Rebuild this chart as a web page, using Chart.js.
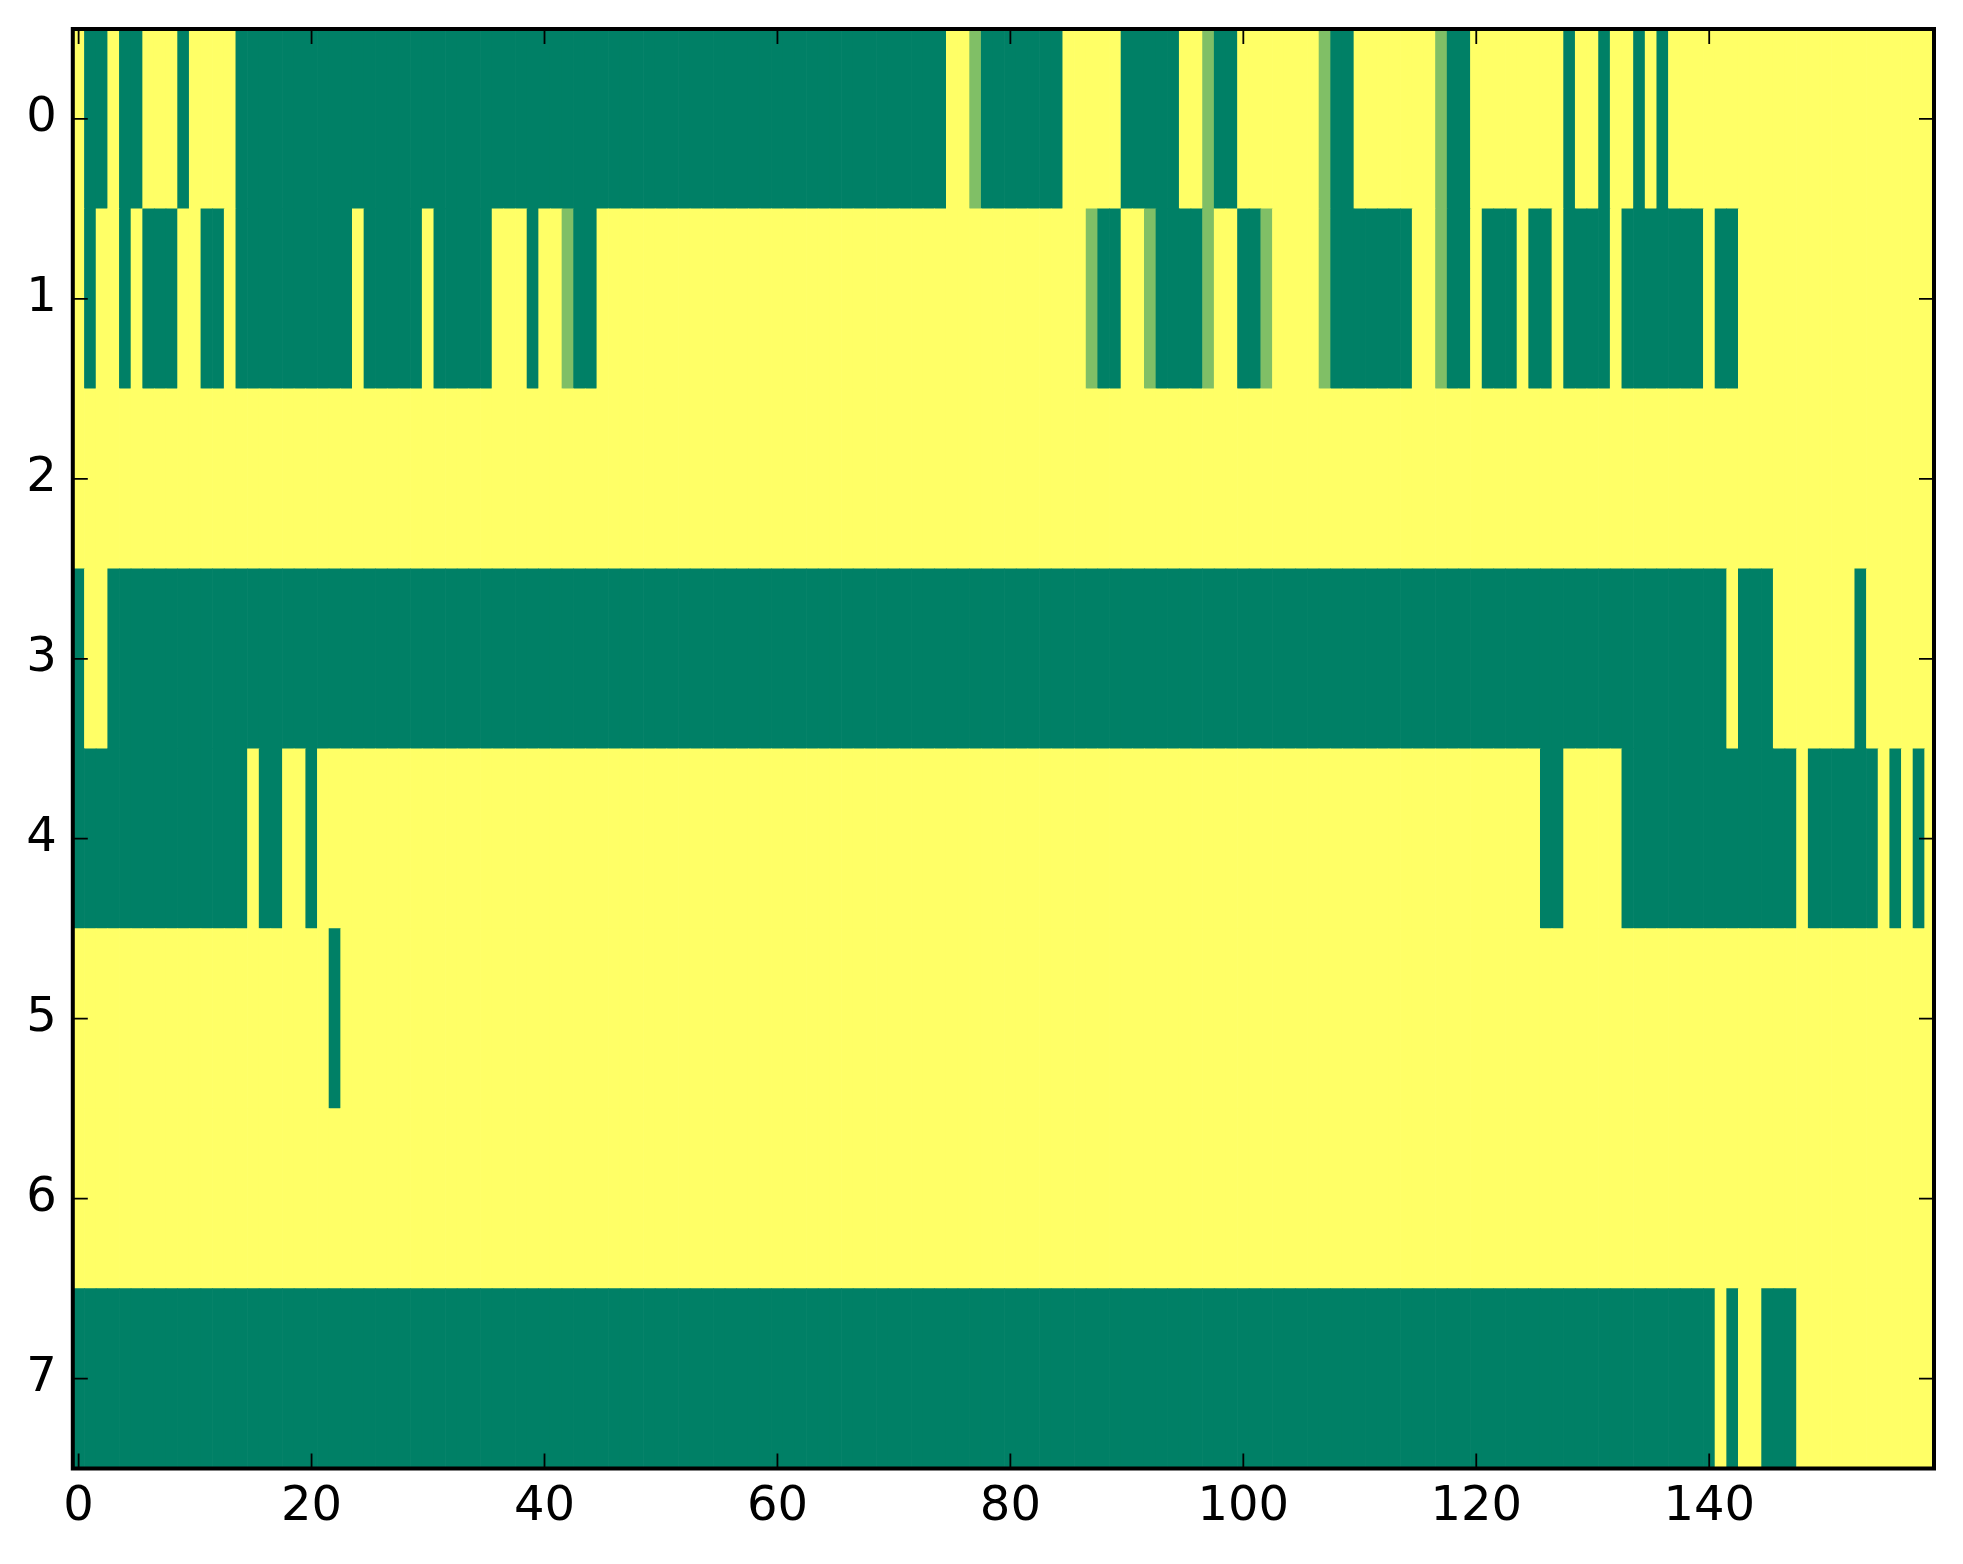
<!DOCTYPE html>
<html>
<head>
<meta charset="utf-8">
<script src="https://cdn.jsdelivr.net/npm/chart.js@4.4.1/dist/chart.umd.min.js"></script>
<style>
  html, body { margin: 0; padding: 0; background: #ffffff; }
  #wrap { width: 1963px; height: 1564px; position: relative; }
</style>
</head>
<body>
<div id="wrap"><canvas id="c"></canvas></div>
<script>
// ---- data: one array per image row, one value per column (0 = low, 1 = high) ----
const xTickValues = [0, 20, 40, 60, 80, 100, 120, 140];
const yTickValues = [0, 1, 2, 3, 4, 5, 6, 7];

const row0 = [
  1,0,0,1,0,0,1,1,1,0,  1,1,1,1,0,0,0,0,0,0,
  0,0,0,0,0,0,0,0,0,0,  0,0,0,0,0,0,0,0,0,0,
  0,0,0,0,0,0,0,0,0,0,  0,0,0,0,0,0,0,0,0,0,
  0,0,0,0,0,0,0,0,0,0,  0,0,0,0,0,1,1,0.5,0,0,
  0,0,0,0,0,1,1,1,1,1,  0,0,0,0,0,1,1,0.5,0,0,
  1,1,1,1,1,1,1,0.5,0,0,  1,1,1,1,1,1,1,0.5,0,0,
  1,1,1,1,1,1,1,1,0,1,  1,0,1,1,0,1,0,1,1,1,
  1,1,1,1,1,1,1,1,1,1,  1,1,1,1,1,1,1,1,1,1
];
const row1 = [
  1,0,1,1,0,1,0,0,0,1,  1,0,0,1,0,0,0,0,0,0,
  0,0,0,0,1,0,0,0,0,0,  1,0,0,0,0,0,1,1,1,0,
  1,1,0.5,0,0,1,1,1,1,1,  1,1,1,1,1,1,1,1,1,1,
  1,1,1,1,1,1,1,1,1,1,  1,1,1,1,1,1,1,1,1,1,
  1,1,1,1,1,1,1,0.5,0,0,  1,1,0.5,0,0,0,0,0.5,1,1,
  0,0,0.5,1,1,1,1,0.5,0,0,  0,0,0,0,0,1,1,0.5,0,0,
  1,0,0,0,1,0,0,1,0,0,  0,0,1,0,0,0,0,0,0,0,
  1,0,0,1,1,1,1,1,1,1,  1,1,1,1,1,1,1,1,1,1
];
const row2 = [
  1,1,1,1,1,1,1,1,1,1,  1,1,1,1,1,1,1,1,1,1,
  1,1,1,1,1,1,1,1,1,1,  1,1,1,1,1,1,1,1,1,1,
  1,1,1,1,1,1,1,1,1,1,  1,1,1,1,1,1,1,1,1,1,
  1,1,1,1,1,1,1,1,1,1,  1,1,1,1,1,1,1,1,1,1,
  1,1,1,1,1,1,1,1,1,1,  1,1,1,1,1,1,1,1,1,1,
  1,1,1,1,1,1,1,1,1,1,  1,1,1,1,1,1,1,1,1,1,
  1,1,1,1,1,1,1,1,1,1,  1,1,1,1,1,1,1,1,1,1,
  1,1,1,1,1,1,1,1,1,1,  1,1,1,1,1,1,1,1,1,1
];
const row3 = [
  0,1,1,0,0,0,0,0,0,0,  0,0,0,0,0,0,0,0,0,0,
  0,0,0,0,0,0,0,0,0,0,  0,0,0,0,0,0,0,0,0,0,
  0,0,0,0,0,0,0,0,0,0,  0,0,0,0,0,0,0,0,0,0,
  0,0,0,0,0,0,0,0,0,0,  0,0,0,0,0,0,0,0,0,0,
  0,0,0,0,0,0,0,0,0,0,  0,0,0,0,0,0,0,0,0,0,
  0,0,0,0,0,0,0,0,0,0,  0,0,0,0,0,0,0,0,0,0,
  0,0,0,0,0,0,0,0,0,0,  0,0,0,0,0,0,0,0,0,0,
  0,0,1,0,0,0,1,1,1,1,  1,1,1,0,1,1,1,1,1,1
];
const row4 = [
  0,0,0,0,0,0,0,0,0,0,  0,0,0,0,0,1,0,0,1,1,
  0,1,1,1,1,1,1,1,1,1,  1,1,1,1,1,1,1,1,1,1,
  1,1,1,1,1,1,1,1,1,1,  1,1,1,1,1,1,1,1,1,1,
  1,1,1,1,1,1,1,1,1,1,  1,1,1,1,1,1,1,1,1,1,
  1,1,1,1,1,1,1,1,1,1,  1,1,1,1,1,1,1,1,1,1,
  1,1,1,1,1,1,1,1,1,1,  1,1,1,1,1,1,1,1,1,1,
  1,1,1,1,1,1,0,0,1,1,  1,1,1,0,0,0,0,0,0,0,
  0,0,0,0,0,0,0,0,1,0,  0,0,0,0,0,1,0,1,0,1
];
const row5 = [
  1,1,1,1,1,1,1,1,1,1,  1,1,1,1,1,1,1,1,1,1,
  1,1,0,1,1,1,1,1,1,1,  1,1,1,1,1,1,1,1,1,1,
  1,1,1,1,1,1,1,1,1,1,  1,1,1,1,1,1,1,1,1,1,
  1,1,1,1,1,1,1,1,1,1,  1,1,1,1,1,1,1,1,1,1,
  1,1,1,1,1,1,1,1,1,1,  1,1,1,1,1,1,1,1,1,1,
  1,1,1,1,1,1,1,1,1,1,  1,1,1,1,1,1,1,1,1,1,
  1,1,1,1,1,1,1,1,1,1,  1,1,1,1,1,1,1,1,1,1,
  1,1,1,1,1,1,1,1,1,1,  1,1,1,1,1,1,1,1,1,1
];
const row6 = [
  1,1,1,1,1,1,1,1,1,1,  1,1,1,1,1,1,1,1,1,1,
  1,1,1,1,1,1,1,1,1,1,  1,1,1,1,1,1,1,1,1,1,
  1,1,1,1,1,1,1,1,1,1,  1,1,1,1,1,1,1,1,1,1,
  1,1,1,1,1,1,1,1,1,1,  1,1,1,1,1,1,1,1,1,1,
  1,1,1,1,1,1,1,1,1,1,  1,1,1,1,1,1,1,1,1,1,
  1,1,1,1,1,1,1,1,1,1,  1,1,1,1,1,1,1,1,1,1,
  1,1,1,1,1,1,1,1,1,1,  1,1,1,1,1,1,1,1,1,1,
  1,1,1,1,1,1,1,1,1,1,  1,1,1,1,1,1,1,1,1,1
];
const row7 = [
  0,0,0,0,0,0,0,0,0,0,  0,0,0,0,0,0,0,0,0,0,
  0,0,0,0,0,0,0,0,0,0,  0,0,0,0,0,0,0,0,0,0,
  0,0,0,0,0,0,0,0,0,0,  0,0,0,0,0,0,0,0,0,0,
  0,0,0,0,0,0,0,0,0,0,  0,0,0,0,0,0,0,0,0,0,
  0,0,0,0,0,0,0,0,0,0,  0,0,0,0,0,0,0,0,0,0,
  0,0,0,0,0,0,0,0,0,0,  0,0,0,0,0,0,0,0,0,0,
  0,0,0,0,0,0,0,0,0,0,  0,0,0,0,0,0,0,0,0,0,
  0,1,0,1,1,0,0,0,1,1,  1,1,1,1,1,1,1,1,1,1
];
const rows = [row0, row1, row2, row3, row4, row5, row6, row7];

// matplotlib "summer" colormap
function summer(v) {
  const r = Math.round(255 * v);
  const g = Math.round(127.5 + 127.5 * v);
  return 'rgb(' + r + ',' + g + ',102)';
}

// one bar per cell: spans column c-0.5..c+0.5 in row r
const cells = [];
const cellColors = [];
rows.forEach((vals, r) => {
  vals.forEach((v, c) => {
    cells.push({ x: [c - 0.5, c + 0.5], y: r });
    cellColors.push(summer(v));
  });
});

const FONT = { family: 'DejaVu Sans', size: 48 };

const framePlugin = {
  id: 'frame',
  afterDatasetsDraw(chart) {
    const ctx = chart.ctx;
    const a = chart.chartArea;
    const xs = chart.scales.x, ys = chart.scales.y;
    const L = 15;
    ctx.save();
    ctx.strokeStyle = '#000';
    ctx.lineWidth = 1.8;
    ctx.beginPath();
    xTickValues.forEach(v => {
      const px = xs.getPixelForValue(v);
      ctx.moveTo(px, a.bottom); ctx.lineTo(px, a.bottom - L);
      ctx.moveTo(px, a.top); ctx.lineTo(px, a.top + L);
    });
    yTickValues.forEach(v => {
      const py = ys.getPixelForValue(v);
      ctx.moveTo(a.left, py); ctx.lineTo(a.left + L, py);
      ctx.moveTo(a.right, py); ctx.lineTo(a.right - L, py);
    });
    ctx.stroke();
    ctx.lineWidth = 4;
    ctx.strokeRect(a.left, a.top, a.right - a.left, a.bottom - a.top);
    ctx.restore();
  }
};

new Chart(document.getElementById('c'), {
  type: 'bar',
  data: {
    datasets: [{
      data: cells,
      backgroundColor: cellColors,
      borderWidth: 0,
      barPercentage: 1,
      categoryPercentage: 1,
      grouped: false,
      clip: 0
    }]
  },
  options: {
    indexAxis: 'y',
    responsive: true,
    maintainAspectRatio: false,
    animation: false,
    devicePixelRatio: 1,
    layout: { padding: { left: 0, right: 29, top: 29, bottom: 0 } },
    plugins: { legend: { display: false }, tooltip: { enabled: false } },
    scales: {
      x: {
        type: 'linear',
        position: 'bottom',
        min: -0.5,
        max: 159.3,
        offset: false,
        afterBuildTicks(scale) { scale.ticks = xTickValues.map(v => ({ value: v })); },
        afterFit(scale) {
          scale.height = 95.5;
          scale.paddingLeft = 0; scale.paddingRight = 0;
          scale.paddingTop = 0; scale.paddingBottom = 0;
        },
        ticks: { font: FONT, color: '#000', padding: 10, maxRotation: 0, autoSkip: false,
                 callback: v => String(v) },
        grid: { display: false, drawTicks: false, offset: false },
        border: { display: false }
      },
      y: {
        type: 'linear',
        reverse: true,
        min: -0.5,
        max: 7.5,
        offset: false,
        afterBuildTicks(scale) { scale.ticks = yTickValues.map(v => ({ value: v })); },
        afterFit(scale) {
          scale.width = 72.8;
          scale.paddingLeft = 0; scale.paddingRight = 0;
          scale.paddingTop = 0; scale.paddingBottom = 0;
        },
        ticks: { font: FONT, color: '#000', padding: 16, autoSkip: false,
                 callback: v => String(v) },
        grid: { display: false, drawTicks: false, offset: false },
        border: { display: false }
      }
    }
  },
  plugins: [framePlugin]
});
</script>
</body>
</html>
